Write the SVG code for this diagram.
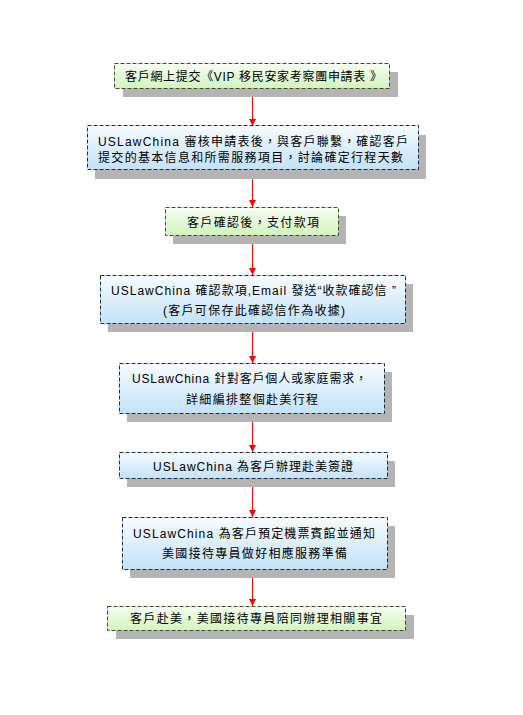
<svg xmlns="http://www.w3.org/2000/svg" width="523" height="715" viewBox="0 0 523 715">
<defs>
<linearGradient id="gGreen" x1="0" y1="0" x2="0" y2="1">
<stop offset="0" stop-color="#f7fdf3"/>
<stop offset="1" stop-color="#d2f4be"/>
</linearGradient>
<linearGradient id="gBlue" x1="0" y1="0" x2="0" y2="1">
<stop offset="0" stop-color="#f7fbff"/>
<stop offset="1" stop-color="#c3e2f8"/>
</linearGradient>
<marker id="ah" markerUnits="userSpaceOnUse" markerWidth="8" markerHeight="8" refX="7" refY="3.5" orient="auto">
<path d="M0,0 L7,3.5 L0,7 z" fill="#ff0000"/>
</marker>
<style>
.sh{fill:#b4b4b4}
.green{fill:url(#gGreen);stroke:#3f4f22;stroke-width:1;stroke-dasharray:4,2}
.blue{fill:url(#gBlue);stroke:#1c2e4c;stroke-width:1;stroke-dasharray:4,2}
text{font-family:"Liberation Sans","Noto Sans CJK TC",sans-serif;font-size:12px;fill:#000}
.arr{stroke:#ff0000;stroke-width:1;fill:none;marker-end:url(#ah)}
</style>
</defs>
<rect width="523" height="715" fill="#ffffff"/>

<g id="connectors">
<line class="arr" x1="252.5" y1="97" x2="252.5" y2="126"/>
<line class="arr" x1="252.5" y1="178" x2="252.5" y2="207"/>
<line class="arr" x1="252.5" y1="244" x2="252.5" y2="275"/>
<line class="arr" x1="252.5" y1="332" x2="252.5" y2="363"/>
<line class="arr" x1="252.5" y1="422" x2="252.5" y2="452"/>
<line class="arr" x1="252.5" y1="487" x2="252.5" y2="517"/>
<line class="arr" x1="252.5" y1="578" x2="252.5" y2="606"/>
</g>

<g id="n1">
<rect class="sh" x="123" y="72" width="275" height="25"/>
<rect class="green" x="114.5" y="63.5" width="275" height="25"/>
<text x="125" y="80.5" textLength="257" lengthAdjust="spacing">客戶網上提交《VIP 移民安家考察團申請表 》</text>
</g>

<g id="n2">
<rect class="sh" x="95" y="135" width="331" height="44"/>
<rect class="blue" x="87.5" y="125.5" width="331" height="44"/>
<text x="98" y="145.5" textLength="310" lengthAdjust="spacing">USLawChina 審核申請表後，與客戶聯繫，確認客戶</text>
<text x="98" y="161.5" textLength="305" lengthAdjust="spacing">提交的基本信息和所需服務項目，討論確定行程天數</text>
</g>

<g id="n3">
<rect class="sh" x="173" y="216" width="173" height="28"/>
<rect class="green" x="165.5" y="207.5" width="173" height="28"/>
<text x="187" y="226.5" textLength="132" lengthAdjust="spacing">客戶確認後，支付款項</text>
</g>

<g id="n4">
<rect class="sh" x="108" y="284" width="305" height="48"/>
<rect class="blue" x="100.5" y="275.5" width="305" height="48"/>
<text x="111" y="294.5" textLength="285" lengthAdjust="spacing">USLawChina 確認款項,Email 發送“收款確認信 ”</text>
<text x="163" y="315" textLength="182" lengthAdjust="spacing">(客戶可保存此確認信作為收據)</text>
</g>

<g id="n5">
<rect class="sh" x="127" y="372" width="265" height="50"/>
<rect class="blue" x="119.5" y="363.5" width="265" height="50"/>
<text x="132" y="382.5" textLength="235" lengthAdjust="spacing">USLawChina 針對客戶個人或家庭需求，</text>
<text x="186" y="403.5" textLength="132" lengthAdjust="spacing">詳細編排整個赴美行程</text>
</g>

<g id="n6">
<rect class="sh" x="127" y="461" width="268" height="26"/>
<rect class="blue" x="119.5" y="452.5" width="268" height="26"/>
<text x="153" y="471" textLength="200" lengthAdjust="spacing">USLawChina 為客戶辦理赴美簽證</text>
</g>

<g id="n7">
<rect class="sh" x="130" y="526" width="265" height="52"/>
<rect class="blue" x="122.5" y="517.5" width="265" height="52"/>
<text x="133" y="537.5" textLength="242" lengthAdjust="spacing">USLawChina 為客戶預定機票賓館並通知</text>
<text x="162" y="557.5" textLength="185" lengthAdjust="spacing">美國接待專員做好相應服務準備</text>
</g>

<g id="n8">
<rect class="sh" x="116" y="615" width="298" height="24"/>
<rect class="green" x="107.5" y="606.5" width="298" height="24"/>
<text x="130" y="622.5" textLength="252" lengthAdjust="spacing">客戶赴美，美國接待專員陪同辦理相關事宜</text>
</g>
</svg>
